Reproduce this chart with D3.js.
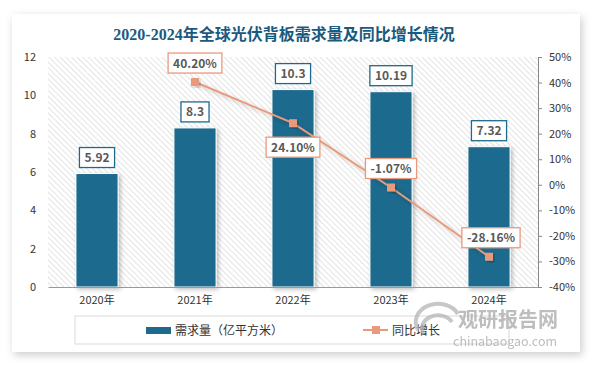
<!DOCTYPE html>
<html>
<head>
<meta charset="utf-8">
<script src="https://cdn.jsdelivr.net/npm/d3@7"></script>
<style>
  body { margin: 0; background: #fff; }
  svg { display: block; }
</style>
</head>
<body>
<div id="chart"></div>
<script>
var years = ["2020年", "2021年", "2022年", "2023年", "2024年"];
var demand = [5.92, 8.3, 10.3, 10.19, 7.32];
var growth = [null, 40.20, 24.10, -1.07, -28.16];
var demandLabels = ["5.92", "8.3", "10.3", "10.19", "7.32"];
var growthLabels = ["", "40.20%", "24.10%", "-1.07%", "-28.16%"];
var leftTicks = [0, 2, 4, 6, 8, 10, 12];
var rightTicks = [-40, -30, -20, -10, 0, 10, 20, 30, 40, 50];
// label above (-1) or below (+1) the point
var growthSide = [0, -1, 1, -1, -1];

const W = 594, H = 366;
const margins = { top: 57, right: 56, bottom: 79, left: 48 };
const graphWidth = W - margins.left - margins.right;
const graphHeight = H - margins.top - margins.bottom;

const barColor = "#1d6a8e";
const lineColor = "#e99a7b";
const font = "'Noto Sans CJK SC', sans-serif";

const svg = d3.select("#chart").append("svg")
  .attr("width", W).attr("height", H);

const defs = svg.append("defs");
const pat = defs.append("pattern")
  .attr("id", "hatch")
  .attr("patternUnits", "userSpaceOnUse")
  .attr("width", 4).attr("height", 4)
  .attr("patternTransform", "rotate(-45)");
pat.append("line")
  .attr("x1", 0).attr("y1", 0).attr("x2", 0).attr("y2", 4)
  .attr("stroke", "#c9c9c9").attr("stroke-width", 1);

const shadow = defs.append("filter").attr("id", "shadow")
  .attr("x", "-10%").attr("y", "-10%").attr("width", "130%").attr("height", "130%");
shadow.append("feDropShadow").attr("dx", 2).attr("dy", 2).attr("stdDeviation", 2)
  .attr("flood-color", "#000").attr("flood-opacity", 0.25);

const cardShadow = defs.append("filter").attr("id", "cardShadow")
  .attr("x", "-5%").attr("y", "-5%").attr("width", "110%").attr("height", "110%");
cardShadow.append("feDropShadow").attr("dx", 2).attr("dy", 3).attr("stdDeviation", 4)
  .attr("flood-color", "#000").attr("flood-opacity", 0.2);

// card
svg.append("rect")
  .attr("x", 12).attr("y", 14).attr("width", 568).attr("height", 338)
  .attr("fill", "#fff").attr("filter", "url(#cardShadow)");

// title
svg.append("text")
  .attr("x", 284).attr("y", 40)
  .attr("text-anchor", "middle")
  .attr("font-family", "'Liberation Serif', 'Noto Sans CJK SC', serif")
  .attr("font-weight", 700)
  .attr("font-size", "16px")
  .attr("fill", "#1a5a7e")
  .text("2020-2024年全球光伏背板需求量及同比增长情况");

const graph = svg.append("g")
  .attr("transform", `translate(${margins.left},${margins.top})`);

graph.append("rect")
  .attr("width", graphWidth).attr("height", graphHeight)
  .attr("fill", "url(#hatch)");

const x = d3.scaleBand().domain(years).range([0, graphWidth]).paddingInner(0.57).paddingOuter(0.285);
const y = d3.scaleLinear().domain([0, 12]).range([graphHeight, 0]);
const y2 = d3.scaleLinear().domain([-40, 50]).range([graphHeight, 0]);

// bars
graph.selectAll(".bar").data(demand).enter().append("rect")
  .attr("class", "bar")
  .attr("x", (d, i) => x(years[i]))
  .attr("y", d => y(d))
  .attr("width", x.bandwidth())
  .attr("height", d => graphHeight - y(d))
  .attr("fill", barColor)
  .attr("stroke", "#fff").attr("stroke-width", 1)
  .attr("filter", "url(#shadow)");

// axes
const yAxisL = graph.append("g").call(d3.axisLeft(y).tickValues(leftTicks).tickSize(0).tickPadding(12));
yAxisL.select(".domain").remove();
yAxisL.selectAll("text").attr("font-family", font).attr("font-size", "11px").attr("fill", "#333");

const yAxisR = graph.append("g")
  .attr("transform", `translate(${graphWidth},0)`)
  .call(d3.axisRight(y2).tickValues(rightTicks).tickSize(4).tickPadding(7).tickFormat(d => d + "%"));
yAxisR.select(".domain").attr("stroke", "#888");
yAxisR.selectAll("line").attr("stroke", "#888");
yAxisR.selectAll("text").attr("font-family", font).attr("font-size", "11px").attr("fill", "#333");

const xAxis = graph.append("g")
  .attr("transform", `translate(0,${graphHeight})`)
  .call(d3.axisBottom(x).tickSize(0).tickPadding(9));
xAxis.select(".domain").attr("stroke", "#999");
xAxis.selectAll("text").attr("font-family", font).attr("font-size", "11px").attr("fill", "#333");

// line
const pts = growth.map((g, i) => ({ g: g, i: i })).filter(d => d.g !== null);
const line = d3.line().x(d => x(years[d.i]) + x.bandwidth() / 2).y(d => y2(d.g));
graph.append("path").datum(pts)
  .attr("d", line)
  .attr("fill", "none")
  .attr("stroke", lineColor)
  .attr("stroke-width", 2)
  .attr("filter", "url(#shadow)");
graph.selectAll(".mk").data(pts).enter().append("rect")
  .attr("class", "mk")
  .attr("x", d => x(years[d.i]) + x.bandwidth() / 2 - 4)
  .attr("y", d => y2(d.g) - 4)
  .attr("width", 8).attr("height", 8)
  .attr("fill", lineColor)
  .attr("filter", "url(#shadow)");

// label helper
function boxLabel(cx, cy, txt, border) {
  const g = graph.append("g");
  const t = g.append("text")
    .attr("x", cx).attr("y", cy + 4.5)
    .attr("text-anchor", "middle")
    .attr("font-family", font)
    .attr("font-weight", 700)
    .attr("font-size", "12px")
    .attr("fill", "#595959")
    .text(txt);
  const w = t.node().getComputedTextLength() + 10;
  g.insert("rect", "text")
    .attr("x", cx - w / 2).attr("y", cy - 10)
    .attr("width", w).attr("height", 20)
    .attr("fill", "#fff")
    .attr("stroke", border).attr("stroke-width", 1.3);
}

demand.forEach((d, i) => {
  boxLabel(x(years[i]) + x.bandwidth() / 2, y(d) - 16, demandLabels[i], barColor);
});
pts.forEach(d => {
  const side = growthSide[d.i];
  const off = side < 0 ? -19 : 24;
  boxLabel(x(years[d.i]) + x.bandwidth() / 2 + (d.i === 4 ? 2 : 0), y2(d.g) + off, growthLabels[d.i], lineColor);
});

// legend
const lg = svg.append("g");
lg.append("rect").attr("x", 75).attr("y", 316).attr("width", 434).attr("height", 28)
  .attr("fill", "none").attr("stroke", "#d9d9d9");
lg.append("rect").attr("x", 146).attr("y", 327).attr("width", 25).attr("height", 7).attr("fill", barColor);
lg.append("text").attr("x", 175).attr("y", 335).attr("font-family", font).attr("font-size", "12px")
  .attr("fill", "#333").text("需求量（亿平方米）");
lg.append("line").attr("x1", 363).attr("x2", 388).attr("y1", 330).attr("y2", 330)
  .attr("stroke", lineColor).attr("stroke-width", 2);
lg.append("rect").attr("x", 372).attr("y", 326).attr("width", 8).attr("height", 8).attr("fill", lineColor);
lg.append("text").attr("x", 392).attr("y", 335).attr("font-family", font).attr("font-size", "12px")
  .attr("fill", "#333").text("同比增长");

// watermark
const wm = svg.append("g").attr("opacity", 0.75);
wm.append("path")
  .attr("d", "M418,330 A22,18 0 0 1 458,314 M424,334 A15,12 0 0 1 452,322")
  .attr("fill", "none").attr("stroke", "#b5b5b5").attr("stroke-width", 4);
wm.append("text").attr("x", 458).attr("y", 327).attr("font-family", font).attr("font-weight", 700)
  .attr("font-size", "20px").attr("fill", "#a8a8a8").text("观研报告网");
wm.append("text").attr("x", 453).attr("y", 346).attr("font-family", font)
  .attr("font-size", "12.5px").attr("fill", "#a8a8a8").text("chinabaogao.com");
</script>
</body>
</html>
